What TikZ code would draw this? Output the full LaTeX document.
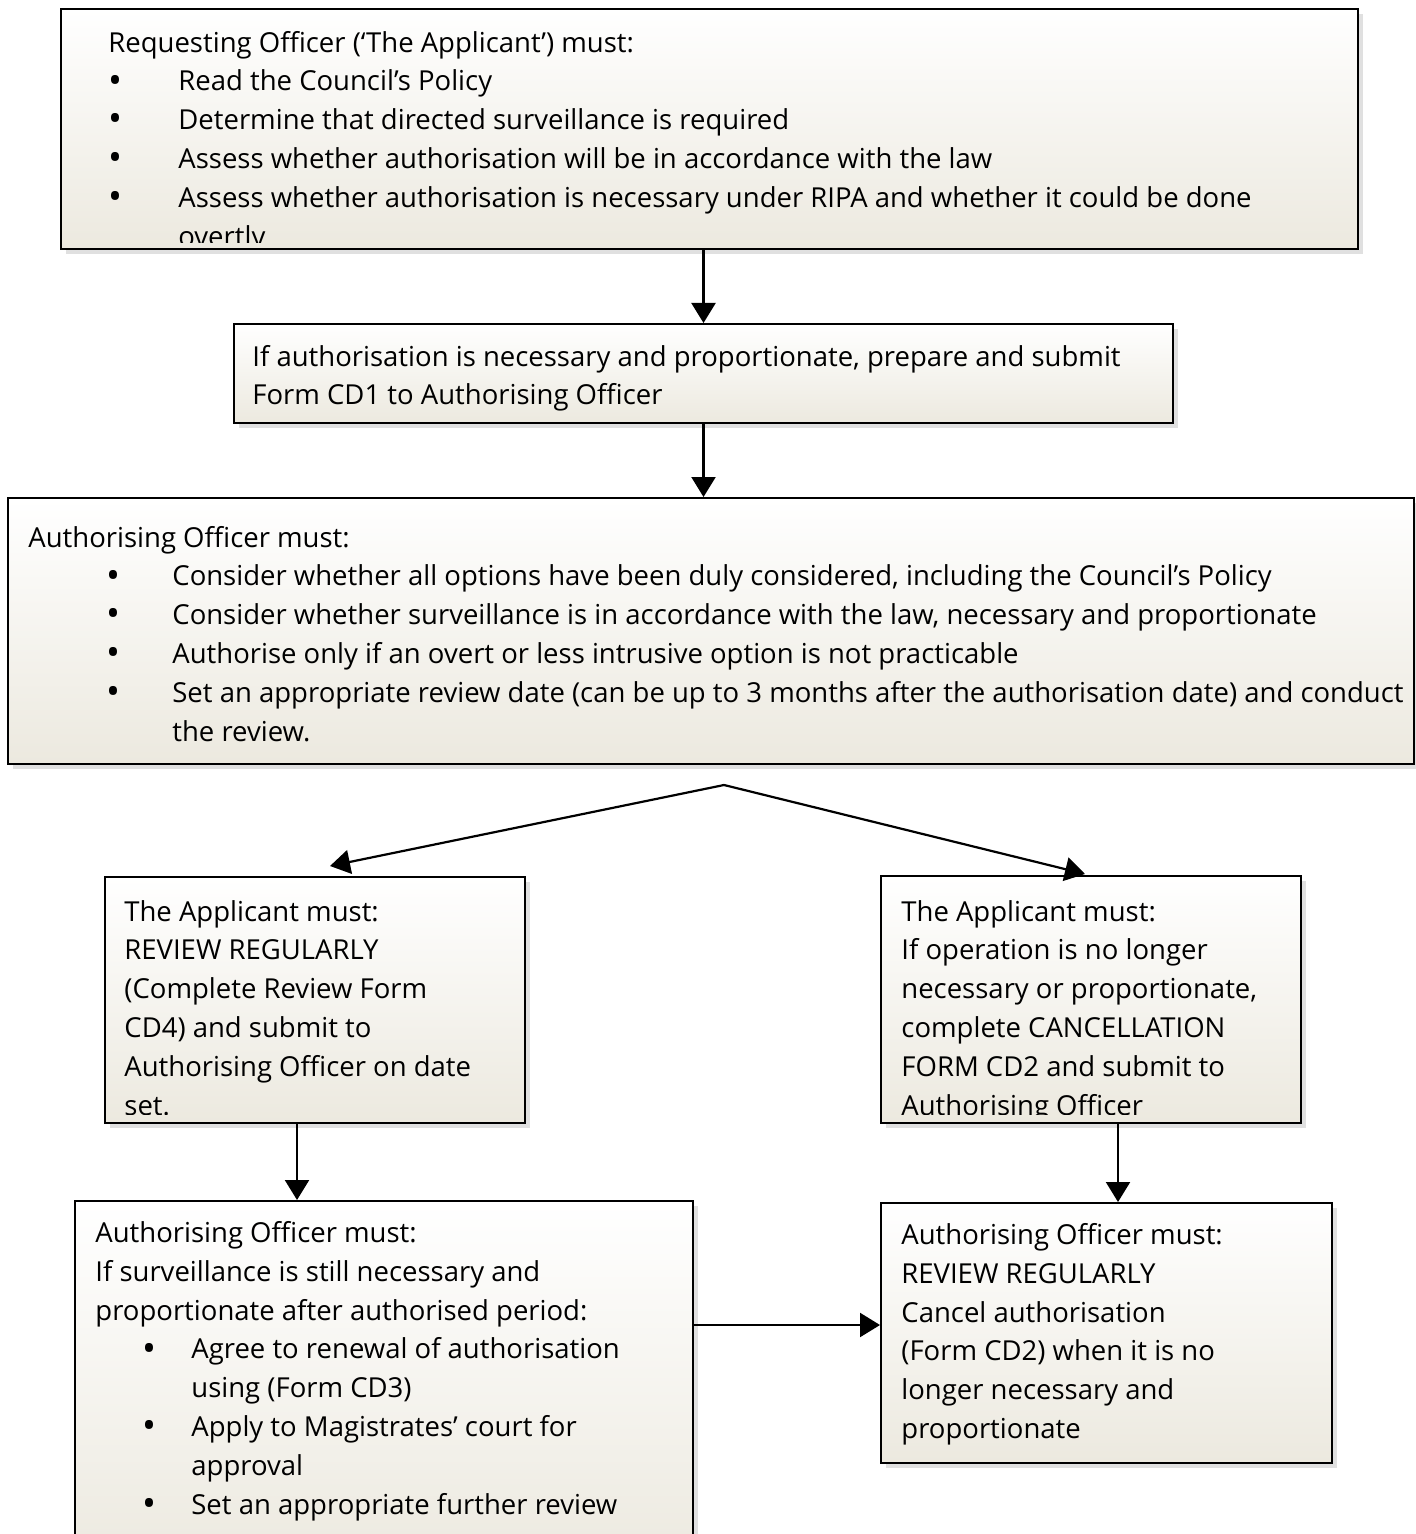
\documentclass[tikz,border=0pt]{standalone}
\usepackage{fontspec}
\setmainfont{Open Sans}
\usetikzlibrary{arrows.meta,shadows}

\definecolor{panelbot}{HTML}{ECE9DF}
\newcommand{\bitem}[3]{\makebox[#1][l]{\hspace*{#2}\raisebox{-0.15ex}{\scalebox{1.35}{•}}}#3}

\tikzset{
  panel/.style={rectangle, draw=black, line width=1pt, anchor=north west, inner sep=0pt,
    top color=white, bottom color=panelbot,
    drop shadow={shadow xshift=2.5pt, shadow yshift=-2.5pt, opacity=0.2, fill=black!60}},
  say/.style={anchor=north west, inner sep=0pt, align=left, font=\fontsize{13.75}{19.4}\selectfont},
  flow/.style={-{Triangle[width=12pt,length=10pt]}, line width=1.1pt},
}

\begin{document}
\begin{tikzpicture}[x=0.5pt,y=-0.5pt]
\useasboundingbox (0,0) rectangle (1415,1534);

% panels
\node (req) [panel, minimum width=648.5pt, minimum height=120pt] at (60,8) {};
\node (sub) [panel, minimum width=469.5pt, minimum height=49.5pt] at (233,323) {};
\node (auth) [panel, minimum width=703pt, minimum height=133pt] at (7,497) {};
\node (appL) [panel, minimum width=210pt, minimum height=123pt] at (104,876) {};
\node (appR) [panel, minimum width=210pt, minimum height=123.5pt] at (880,875) {};
\node (aoL) [panel, minimum width=309pt, minimum height=185pt] at (74,1200) {};
\node (aoR) [panel, minimum width=225.5pt, minimum height=130pt] at (880,1202) {};

% texts
\begin{scope}
\clip ([yshift=3.5pt]req.south west) rectangle (req.north east);
\node (reqtext) [say] at (108,24.5) {\strut Requesting Officer (‘The Applicant’) must:\\
\bitem{35pt}{0pt}{Read the Council’s Policy}\\
\bitem{35pt}{0pt}{Determine that directed surveillance is required}\\
\bitem{35pt}{0pt}{Assess whether authorisation will be in accordance with the law}\\
\bitem{35pt}{0pt}{Assess whether authorisation is necessary under RIPA and whether it could be done}\\
\hspace*{35pt}overtly};
\end{scope}

\node (subtext) [say] at (252,338.5) {\strut If authorisation is necessary and proportionate, prepare and submit\\
Form CD1 to Authorising Officer};

\node (authtext) [say] at (28,519.5) {\strut Authorising Officer must:\\
\bitem{72pt}{39pt}{Consider whether all options have been duly considered, including the Council’s Policy}\\
\bitem{72pt}{39pt}{Consider whether surveillance is in accordance with the law, necessary and proportionate}\\
\bitem{72pt}{39pt}{Authorise only if an overt or less intrusive option is not practicable}\\
\bitem{72pt}{39pt}{Set an appropriate review date (can be up to 3 months after the authorisation date) and conduct}\\
\hspace*{72pt}the review.};

\begin{scope}
\clip ([yshift=5pt]appL.south west) rectangle (appL.north east);
\node (appLtext) [say] at (124,893.5) {\strut The Applicant must:\\
REVIEW REGULARLY\\
(Complete Review Form\\
CD4) and submit to\\
Authorising Officer on date\\
set.};
\end{scope}

\begin{scope}
\clip ([yshift=5pt]appR.south west) rectangle (appR.north east);
\node (appRtext) [say] at (901,893.5) {\strut The Applicant must:\\
If operation is no longer\\
necessary or proportionate,\\
complete CANCELLATION\\
FORM CD2 and submit to\\
Authorising Officer};
\end{scope}

\node (aoLtext) [say] at (95,1215) {\strut Authorising Officer must:\\
If surveillance is still necessary and\\
proportionate after authorised period:\\
\bitem{48pt}{23.5pt}{Agree to renewal of authorisation}\\
\hspace*{48pt}using (Form CD3)\\
\bitem{48pt}{23.5pt}{Apply to Magistrates’ court for}\\
\hspace*{48pt}approval\\
\bitem{48pt}{23.5pt}{Set an appropriate further review}};

\node (aoRtext) [say] at (901,1217) {\strut Authorising Officer must:\\
REVIEW REGULARLY\\
Cancel authorisation\\
(Form CD2) when it is no\\
longer necessary and\\
proportionate};

% connectors
\coordinate (fork) at (724,785);
\coordinate (forkL) at (330,866);
\coordinate (forkR) at (1085,874);

\draw[flow] (req.south -| sub.north) -- (sub.north);
\draw[flow] (sub.south) -- (sub.south |- auth.north);
\draw[flow] (fork) -- (forkL);
\draw[flow] (fork) -- (forkR);
\draw[flow] ([xshift=-9pt]appL.south) -- ([xshift=-9pt]appL.south |- aoL.north);
\draw[flow] ([xshift=13.5pt]appR.south) -- ([xshift=13.5pt]appR.south |- aoR.north);
\draw[flow] ([yshift=4pt]aoR.west -| aoL.east) -- ([yshift=4pt]aoR.west);
\end{tikzpicture}
\end{document}
